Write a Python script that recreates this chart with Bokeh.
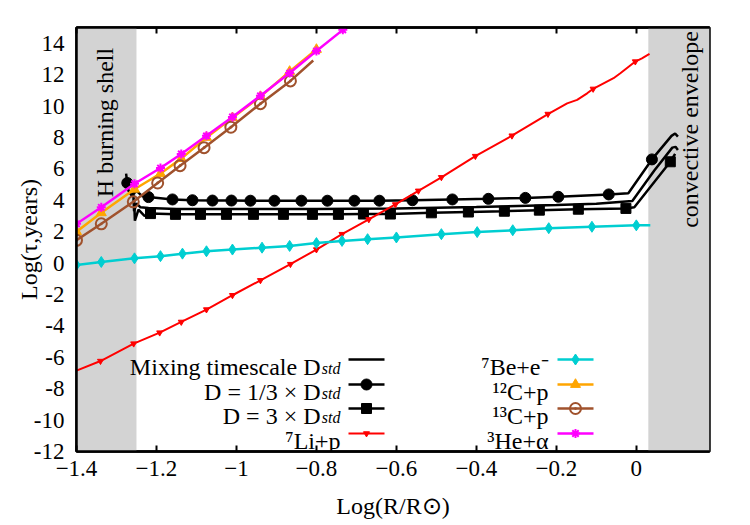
import numpy as np
from bokeh.plotting import figure
from bokeh.models import (BoxAnnotation, Label, LinearAxis, FixedTicker,
                          CustomJSTickFormatter, Range1d)
from bokeh.embed import file_html
from bokeh.resources import INLINE

# ---------------------------------------------------------------- axes
X_RANGE = (-1.4, 0.183)
Y_RANGE = (-12.0, 15.0)
X_TICKS = [-1.4, -1.2, -1.0, -0.8, -0.6, -0.4, -0.2, 0.0]
X_TICK_LABELS = ["\u22121.4", "\u22121.2", "\u22121", "\u22120.8",
                 "\u22120.6", "\u22120.4", "\u22120.2", "0"]
Y_TICKS = [-12, -10, -8, -6, -4, -2, 0, 2, 4, 6, 8, 10, 12, 14]
Y_TICK_LABELS = ["-12", "-10", "-8", "-6", "-4", "-2", "0", "2", "4",
                 "6", "8", "10", "12", "14"]
X_TITLE = "Log(R/R\u2299)"
Y_TITLE = "Log(\u03c4,years)"

# shaded zones: H burning shell and convective envelope
SHELL_ZONE = (-1.4, -1.25)
ENVELOPE_ZONE = (0.03, 0.183)

# ---------------------------------------------------------------- data
# mixing timescale, D_std
MIX_X = [-1.258, -1.256, -1.250, -1.240, -1.220, -1.150, -1.000, -0.800,
         -0.600, -0.400, -0.200, -0.100, -0.010, 0.045, 0.090, 0.098, 0.104]
MIX_Y = [4.5, 3.3, 3.8, 3.55, 3.5, 3.45, 3.45, 3.45,
         3.48, 3.57, 3.7, 3.78, 3.95, 5.9, 7.35, 7.4, 7.2]

# D = 1/3 x D_std
SLOW_X = [-1.276, -1.273, -1.270, -1.262, -1.250, -1.235, -1.220, -1.160,
          -1.110, -1.060, -1.0125, -0.965, -0.905, -0.8375, -0.7725, -0.705,
          -0.6425, -0.560, -0.460, -0.370, -0.2775, -0.195, -0.069, -0.020,
          0.039, 0.088, 0.097, 0.104]
SLOW_Y = [5.7, 5.1, 4.6, 4.3, 4.6, 4.25, 4.2, 4.05,
          4.0, 3.98, 3.98, 3.97, 3.97, 3.97, 3.97, 3.97,
          3.97, 4.0, 4.05, 4.09, 4.15, 4.22, 4.37, 4.45,
          6.6, 8.1, 8.25, 8.05]
SLOW_MARK = [0, 1, 0, 0, 0, 0, 1, 1,
             1, 1, 1, 1, 1, 1, 1, 1,
             1, 1, 1, 1, 1, 1, 1, 0,
             1, 0, 0, 0]

# D = 3 x D_std
FAST_X = [-1.256, -1.254, -1.245, -1.230, -1.215, -1.1525, -1.090, -1.025,
          -0.9575, -0.8825, -0.810, -0.745, -0.6825, -0.615, -0.5125, -0.420,
          -0.330, -0.2425, -0.145, -0.026, -0.005, 0.085, 0.097]
FAST_Y = [4.1, 2.7, 3.4, 3.0, 3.15, 3.1, 3.1, 3.1,
          3.1, 3.1, 3.1, 3.1, 3.12, 3.12, 3.2, 3.25,
          3.3, 3.37, 3.43, 3.48, 3.55, 6.45, 6.95]
FAST_MARK = [0, 0, 0, 0, 1, 1, 1, 1,
             1, 1, 1, 1, 1, 1, 1, 1,
             1, 1, 1, 1, 0, 1, 0]

# 7Li + p
LI_X = [-1.400, -1.340, -1.257, -1.192, -1.138, -1.075, -1.010, -0.940,
        -0.865, -0.800, -0.736, -0.669, -0.6025, -0.545, -0.4875, -0.4025,
        -0.311, -0.221, -0.173, -0.148, -0.123, -0.108, -0.057, -0.040,
        -0.0025, 0.014, 0.033]
LI_Y = [-6.85, -6.24, -5.13, -4.43, -3.75, -2.96, -2.05, -1.1,
        -0.07, 0.86, 1.84, 2.78, 3.73, 4.6, 5.46, 6.81,
        8.11, 9.49, 10.17, 10.39, 10.81, 11.09, 11.77, 12.09,
        12.83, 13.04, 13.32]
LI_MARK = [0, 1, 1, 1, 1, 1, 1, 1,
           1, 1, 1, 1, 1, 1, 1, 1,
           1, 1, 0, 0, 0, 1, 0, 0,
           1, 0, 0]

# 7Be + e-
BE_X = [-1.400, -1.338, -1.255, -1.190, -1.135, -1.075, -1.010, -0.936,
        -0.867, -0.800, -0.736, -0.672, -0.600, -0.4875, -0.398, -0.309,
        -0.219, -0.111, 0.000, 0.035]
BE_Y = [-0.12, 0.07, 0.3, 0.44, 0.6, 0.75, 0.86, 0.98,
        1.09, 1.27, 1.41, 1.52, 1.63, 1.84, 1.97, 2.09,
        2.22, 2.31, 2.4, 2.4]
BE_MARK = [1] * 19 + [0]

# 12C + p
C12_X = [-1.400, -1.338, -1.255, -1.190, -1.138, -1.075, -1.010, -0.940,
         -0.867, -0.800]
C12_Y = [2.0, 3.2, 4.7, 5.7, 6.65, 8.0, 9.25, 10.6, 12.2, 13.6]
C12_MARK = [1] * 10

# 13C + p
C13_X = [-1.400, -1.338, -1.258, -1.197, -1.141, -1.081, -1.014, -0.940,
         -0.865, -0.808]
C13_Y = [1.45, 2.5, 3.9, 5.1, 6.2, 7.35, 8.65, 10.15, 11.6, 12.9]
C13_MARK = [1] * 9 + [0]

# 3He + alpha
HE_X = [-1.400, -1.338, -1.255, -1.190, -1.138, -1.075, -1.010, -0.940,
        -0.867, -0.800, -0.734]
HE_Y = [2.5, 3.55, 5.05, 6.05, 6.95, 8.1, 9.3, 10.65, 12.1, 13.5, 14.85]
HE_MARK = [1] * 11

# ---------------------------------------------------------------- style
FONT = "Liberation Serif"
FS = "24px"
TICK_FS = "23px"
FRAME_L, FRAME_R, FRAME_T, FRAME_B = 76, 709, 27, 451
W, H = 750, 525

RED, CYAN, ORANGE, BROWN, MAGENTA = "#ff0000", "#00ced1", "#ffa500", "#a0522d", "#ff00ff"


def to_x(px):
    return X_RANGE[0] + (px - FRAME_L) / (FRAME_R - FRAME_L) * (X_RANGE[1] - X_RANGE[0])


def to_y(py):
    return Y_RANGE[1] - (py - FRAME_T) / (FRAME_B - FRAME_T) * (Y_RANGE[1] - Y_RANGE[0])


def text_label(px, py, text, size=FS, align="center", baseline="middle", angle=0.0,
               style="normal"):
    return Label(x=to_x(px), y=to_y(py), text=text, angle=angle,
                 text_align=align, text_baseline=baseline, text_font=FONT,
                 text_font_size=size, text_font_style=style, text_color="black")


p = figure(width=W, height=H, x_range=Range1d(*X_RANGE), y_range=Range1d(*Y_RANGE),
           output_backend="svg", toolbar_location=None,
           min_border_left=FRAME_L, min_border_right=W - FRAME_R,
           min_border_top=FRAME_T, min_border_bottom=H - FRAME_B)
p.grid.visible = False
p.background_fill_color = "white"
p.border_fill_color = "white"
p.outline_line_color = "black"
p.outline_line_width = 2.5

# shaded zones under the curves
for lo, hi in (SHELL_ZONE, ENVELOPE_ZONE):
    p.add_layout(BoxAnnotation(left=lo, right=hi, fill_color="#d3d3d3", fill_alpha=1.0,
                               line_color=None, level="underlay"))

# bottom axis
xa = p.xaxis[0]
xa.ticker = FixedTicker(ticks=X_TICKS)
xa.major_label_overrides = dict(zip(X_TICKS, X_TICK_LABELS))
xa.major_tick_in = 6
xa.major_tick_out = 0
xa.major_label_standoff = 9
xa.axis_label = X_TITLE
xa.axis_label_standoff = 14
# left axis
ya = p.yaxis[0]
ya.ticker = FixedTicker(ticks=Y_TICKS)
ya.major_label_overrides = dict(zip(Y_TICKS, Y_TICK_LABELS))
ya.major_tick_in = 0
ya.major_tick_out = 0
ya.major_label_standoff = 12
ya.axis_label = Y_TITLE
ya.axis_label_standoff = -11

for ax in (xa, ya):
    ax.axis_line_width = 2.5
    ax.major_tick_line_width = 2
    ax.minor_tick_line_color = None
    ax.major_label_text_font = FONT
    ax.major_label_text_font_size = TICK_FS
    ax.major_label_text_color = "black"
    ax.axis_label_text_font = FONT
    ax.axis_label_text_font_size = FS
    ax.axis_label_text_font_style = "normal"
    ax.axis_label_text_color = "black"

# top axis: ticks only
top = LinearAxis(ticker=FixedTicker(ticks=X_TICKS),
                 formatter=CustomJSTickFormatter(code="return ''"))
top.major_tick_in = 6
top.major_tick_out = 0
top.major_tick_line_width = 2
top.minor_tick_line_color = None
top.axis_line_width = 2.5
top.major_label_text_font_size = "0px"
top.major_label_standoff = 0
p.add_layout(top, "above")


def pick(xs, ys, mask):
    return ([x for x, m in zip(xs, mask) if m], [y for y, m in zip(ys, mask) if m])


# mixing curves
p.line(MIX_X, MIX_Y, line_color="black", line_width=2.5)
p.line(SLOW_X, SLOW_Y, line_color="black", line_width=2.5)
mx, my = pick(SLOW_X, SLOW_Y, SLOW_MARK)
p.scatter(mx, my, marker="circle", size=11, fill_color="black", line_color="black")
p.line(FAST_X, FAST_Y, line_color="black", line_width=2.5)
mx, my = pick(FAST_X, FAST_Y, FAST_MARK)
p.scatter(mx, my, marker="square", size=10, fill_color="black", line_color="black")

# reaction timescales
p.line(LI_X, LI_Y, line_color=RED, line_width=2)
mx, my = pick(LI_X, LI_Y, LI_MARK)
p.scatter(mx, my, marker="inverted_triangle", size=6, fill_color=RED, line_color=RED)

p.line(BE_X, BE_Y, line_color=CYAN, line_width=2.5)
mx, my = pick(BE_X, BE_Y, BE_MARK)
p.scatter(mx, my, marker="diamond", size=11, fill_color=CYAN, line_color=CYAN)

p.line(C12_X, C12_Y, line_color=ORANGE, line_width=2.5)
mx, my = pick(C12_X, C12_Y, C12_MARK)
p.scatter(mx, my, marker="triangle", size=10, fill_color=ORANGE, line_color=ORANGE)

p.line(C13_X, C13_Y, line_color=BROWN, line_width=2.5)
mx, my = pick(C13_X, C13_Y, C13_MARK)
p.scatter(mx, my, marker="circle_dot", size=11, fill_color=None, line_color=BROWN,
          line_width=2)

p.line(HE_X, HE_Y, line_color=MAGENTA, line_width=2.5)
mx, my = pick(HE_X, HE_Y, HE_MARK)
p.scatter(mx, my, marker="asterisk", size=9, line_color=MAGENTA, line_width=2)

# zone captions
p.add_layout(text_label(104, 122, "H burning shell", angle=np.pi / 2))
p.add_layout(text_label(689, 129, "convective envelope", angle=np.pi / 2))

# key, text on the left of each sample
KEY_ROWS = [359, 384, 408, 433]
KEY_COLS = [(340, 348, 384), (548, 557, 593)]
KEY_ENTRIES = [
    (0, 0, "Mixing timescale D", "std", "black", None, {}),
    (0, 1, "D = 1/3 \u00d7 D", "std", "black", "circle", dict(size=11, fill_color="black")),
    (0, 2, "D = 3 \u00d7 D", "std", "black", "square", dict(size=10, fill_color="black")),
    (0, 3, "\u2077Li+p", None, RED, "inverted_triangle", dict(size=6, fill_color=RED)),
    (1, 0, "\u2077Be+e\u207b", None, CYAN, "diamond", dict(size=11, fill_color=CYAN)),
    (1, 1, "\u00b9\u00b2C+p", None, ORANGE, "triangle", dict(size=10, fill_color=ORANGE)),
    (1, 2, "\u00b9\u00b3C+p", None, BROWN, "circle_dot", dict(size=11, fill_color=None, line_width=2)),
    (1, 3, "\u00b3He+\u03b1", None, MAGENTA, "asterisk", dict(size=9, line_width=2)),
]
for col, row, text, sub, color, marker, mk in KEY_ENTRIES:
    text_r, s0, s1 = KEY_COLS[col]
    ry = KEY_ROWS[row]
    lw = 2.5 if color != RED else 2
    p.line([to_x(s0), to_x(s1)], [to_y(ry), to_y(ry)], line_color=color, line_width=lw)
    if marker:
        p.scatter([to_x((s0 + s1) / 2)], [to_y(ry)], marker=marker, line_color=color, **mk)
    main_r = text_r
    if sub:
        p.add_layout(text_label(text_r, ry + 9, sub, size="16px", align="right",
                                baseline="alphabetic", style="italic"))
        main_r = text_r - 20
    p.add_layout(text_label(main_r, ry + 7, text, align="right", baseline="alphabetic"))

open("out.html", "w").write(file_html(p, INLINE))
